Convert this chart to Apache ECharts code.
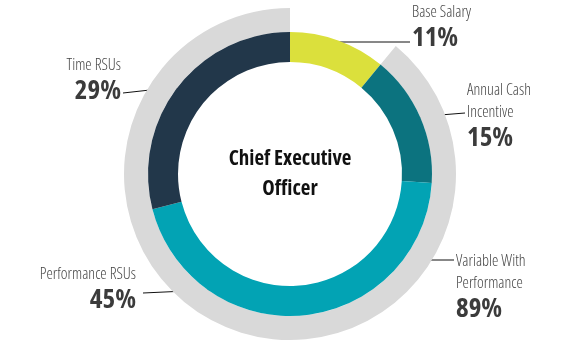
<!DOCTYPE html>
<html><head><meta charset="utf-8">
<script src="https://cdn.jsdelivr.net/npm/echarts@6/dist/echarts.min.js"></script>
<style>html,body{margin:0;padding:0;background:#fff}#c{width:581px;height:350px}</style>
</head><body><div id="c"></div>
<script>
// Data
const categories = ['Base Salary', 'Annual Cash\nIncentive', 'Performance RSUs', 'Time RSUs'];
const values = [11, 15, 45, 29];
const outerCategories = ['Base Salary', 'Variable With\nPerformance'];
const outerValues = [11, 89];
const title = 'Chief Executive\nOfficer';

// Styles / layout
const colors = ['#dbe03c', '#0c737f', '#02a3b4', '#22374a'];
const grayColor = '#d9d9d9';
const FONT = "'Open Sans', sans-serif";
const labelPos = {
  0: { x: 412, y: 1, align: 'left', line: [[338, 42], [374, 42], [410, 42]] },
  1: { x: 467, y: 79, align: 'left', line: [[418, 118], [440, 115], [465, 113]] },
  2: { x: 136, y: 263, align: 'right', line: [[230, 289], [186, 291], [143, 293]] },
  3: { x: 121, y: 54, align: 'right', line: [[177, 88], [150, 90], [123, 93]] },
  v: { x: 456, y: 250, align: 'left', line: [[409, 260], [430, 260], [454, 260]] }
};
const rich = {
  n: { fontFamily: FONT, fontSize: 16, fontWeight: '300 condensed', lineHeight: 22, color: '#454545' },
  p: { fontFamily: FONT, fontSize: 27, fontWeight: 'bold condensed', lineHeight: 30, color: '#3b3b3b' }
};
const fmt = p => p.name.split('\n').map(s => '{n|' + s + '}').join('\n') + '\n{p|' + p.value + '%}';

const chart = echarts.init(document.getElementById('c'), null, { renderer: 'canvas' });
chart.setOption({
  animation: false,
  series: [
    {
      type: 'pie', radius: [142, 166], center: [290, 174], startAngle: 90, clockwise: true,
      silent: true, avoidLabelOverlap: false,
      data: outerCategories.map((c, i) => ({
        name: c, value: outerValues[i],
        itemStyle: { color: i === 0 ? 'rgba(0,0,0,0)' : grayColor },
        label: { show: i === 1 },
        labelLine: { show: i === 1 }
      })),
      label: { position: 'outside', formatter: fmt, rich: rich },
      labelLine: { lineStyle: { color: '#111', width: 1 } },
      labelLayout: () => {
        const L = labelPos.v;
        return { x: L.x, y: L.y, align: L.align, verticalAlign: 'top', labelLinePoints: L.line };
      }
    },
    {
      type: 'pie', radius: [112, 142], center: [290, 174], startAngle: 90, clockwise: true,
      silent: true, avoidLabelOverlap: false,
      data: categories.map((c, i) => ({ name: c, value: values[i], itemStyle: { color: colors[i] } })),
      label: { show: true, position: 'outside', formatter: fmt, rich: rich },
      labelLine: { show: true, lineStyle: { color: '#111', width: 1 } },
      labelLayout: params => {
        const L = labelPos[params.dataIndex];
        return { x: L.x, y: L.y, align: L.align, verticalAlign: 'top', labelLinePoints: L.line };
      }
    }
  ],
  graphic: [{
    type: 'text',
    style: {
      text: title, x: 290, y: 174, align: 'center', verticalAlign: 'middle',
      fontFamily: FONT, fontSize: 21, fontWeight: 'bold condensed', lineHeight: 30, fill: '#111'
    }
  }]
});
</script></body></html>
